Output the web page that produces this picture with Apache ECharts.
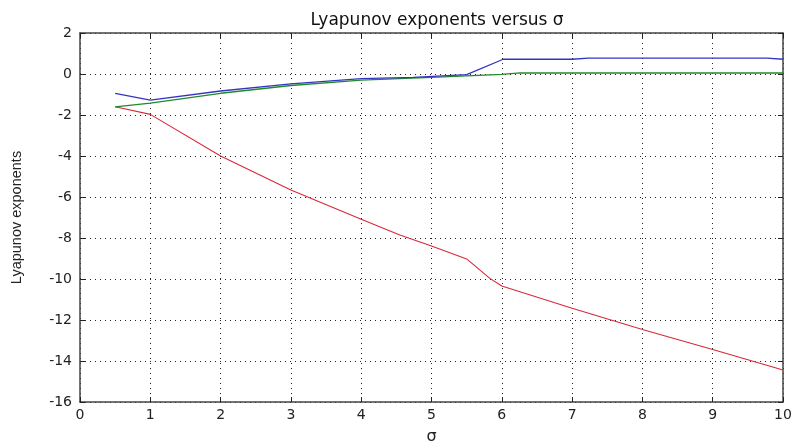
<!DOCTYPE html>
<html><head><meta charset="utf-8">
<script src="https://cdn.jsdelivr.net/npm/echarts@6/dist/echarts.min.js"></script>
<style>html,body{margin:0;padding:0;background:#fff}#c{width:795px;height:444px}</style>
</head><body><div id="c"></div>
<script>
const titleText = 'Lyapunov exponents versus σ';
const xName = 'σ';
const yName = 'Lyapunov exponents';
const blueX = [0.5, 1, 2, 3, 4, 4.74, 5.5, 6.02, 7.0, 7.23, 9.77, 10];
const blueY = [-0.94, -1.27, -0.83, -0.48, -0.23, -0.16, -0.03, 0.72, 0.72, 0.77, 0.77, 0.72];
const greenX = [0.5, 1, 2, 3, 4, 5, 5.5, 6, 6.26, 10];
const greenY = [-1.6, -1.42, -0.94, -0.56, -0.3, -0.16, -0.09, -0.02, 0.05, 0.05];
const redX = [0.5, 1, 2, 3, 4, 4.55, 5, 5.5, 5.83, 6, 7, 8, 9, 10];
const redY = [-1.6, -1.97, -4.0, -5.66, -7.09, -7.85, -8.39, -9.02, -9.97, -10.34, -11.43, -12.46, -13.44, -14.44];
const xTicks = [0,1,2,3,4,5,6,7,8,9,10];
const yTicks = [2,0,-2,-4,-6,-8,-10,-12,-14,-16];

function pairs(xs, ys){ return xs.map((x,i)=>[x, ys[i]]); }
const wide = 'DejaVu Sans, Verdana, sans-serif';
const narrow = 'Liberation Sans, Arial, sans-serif';
const axisLine = {show:true, onZero:false, lineStyle:{color:'#444', width:1.5}};
const tick = {show:true, inside:true, length:5, lineStyle:{color:'#222'}};
const chart = echarts.init(document.getElementById('c'));
chart.setOption({
  animation:false,
  backgroundColor:'#fff',
  title:{text:titleText, left:432, top:7, textAlign:'center',
    textStyle:{fontFamily:wide, fontSize:17, fontWeight:'normal', color:'#111'}},
  grid:{left:80, right:12, top:33, bottom:42, containLabel:false, outerBoundsMode:'none'},
  xAxis:[{type:'value', min:0, max:10, interval:1, position:'bottom',
    name:xName, nameLocation:'middle', nameGap:27,
    nameTextStyle:{fontFamily:wide, fontSize:16, color:'#222'},
    axisLine:axisLine, axisTick:tick,
    axisLabel:{fontFamily:wide, fontSize:14, color:'#222', margin:6, formatter:v=>xTicks.includes(v)?String(v):''},
    splitLine:{show:true, lineStyle:{color:'#222', type:[1,4], width:1}}},
   {type:'value', min:0, max:10, interval:1, position:'top',
    axisLine:axisLine, axisTick:tick,
    axisLabel:{show:false}, splitLine:{show:false}}],
  yAxis:[{type:'value', min:-16, max:2, interval:2, position:'left',
    name:yName, nameLocation:'middle', nameGap:56, nameRotate:90,
    nameTextStyle:{fontFamily:narrow, fontSize:14.5, color:'#222'},
    axisLine:axisLine, axisTick:tick,
    axisLabel:{fontFamily:wide, fontSize:14, color:'#222', margin:8, formatter:v=>yTicks.includes(v)?String(v):''},
    splitLine:{show:true, lineStyle:{color:'#222', type:[1,4], width:1}}},
   {type:'value', min:-16, max:2, interval:2, position:'right',
    axisLine:axisLine, axisTick:tick,
    axisLabel:{show:false}, splitLine:{show:false}}],
  series:[
    {type:'line', name:'red', data:pairs(redX, redY), showSymbol:false, lineStyle:{color:'#d9283a', width:1.1}, z:3},
    {type:'line', name:'green', data:pairs(greenX, greenY), showSymbol:false, lineStyle:{color:'#1f8a2a', width:1.3}, z:4},
    {type:'line', name:'blue', data:pairs(blueX, blueY), showSymbol:false, lineStyle:{color:'#3434c4', width:1.3}, z:5}
  ]
});
</script></body></html>
